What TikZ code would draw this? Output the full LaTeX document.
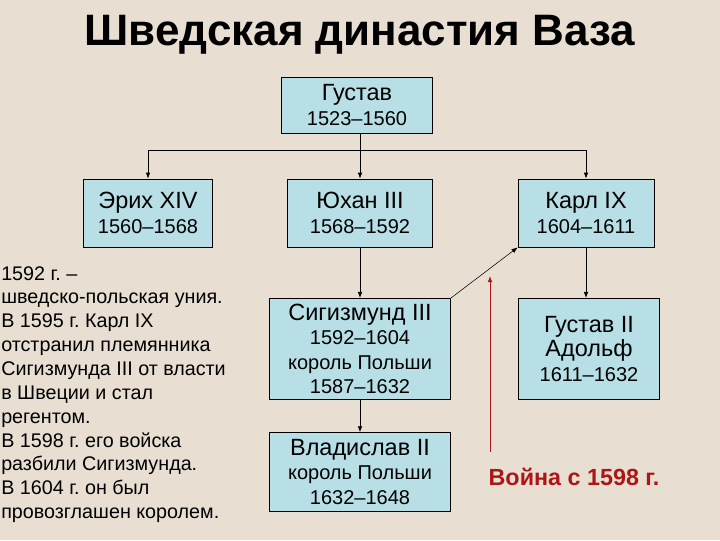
\documentclass[tikz,border=0pt]{standalone}
\usepackage{fontspec}
\setmainfont{Liberation Sans}
\usetikzlibrary{arrows.meta}
\definecolor{paper}{RGB}{232,223,210}
\definecolor{boxblue}{RGB}{183,223,229}
\definecolor{warred}{RGB}{172,22,22}
\newcommand{\nm}{\fontsize{17.6}{20.5}\selectfont}
\newcommand{\yr}{\fontsize{15}{18.3}\selectfont}
\frenchspacing
\tikzset{
  ruler/.style = {draw, fill=boxblue, line width=0.6pt, align=center,
                  inner sep=2pt, font=\yr},
  arr/.style = {-{Latex[length=4.5pt,width=3.5pt]}, line width=0.6pt},
}
\begin{document}
\begin{tikzpicture}[x=0.75pt, y=-0.75pt]
  % Le fond
  \fill[paper] (0,0) rectangle (720,540);
  \useasboundingbox (0,0) rectangle (720,540);

  % Le titre
  \node[font=\fontsize{33}{36}\selectfont\bfseries] (title) at (360,35) {Шведская династия Ваза};

  % Les rois
  \node[ruler, minimum width=113pt, minimum height=42pt] (gustav) at (357,105)
    {{\nm Густав}\\1523–1560};
  \node[ruler, minimum width=97pt, minimum height=51pt] (erik) at (148,213)
    {{\nm Эрих XIV}\\1560–1568};
  \node[ruler, minimum width=109pt, minimum height=51pt] (juhan) at (360,213)
    {{\nm Юхан III}\\1568–1592};
  \node[ruler, minimum width=102pt, minimum height=51pt] (karl) at (586,213)
    {{\nm Карл IX}\\1604–1611};
  \node[ruler, minimum width=136pt, minimum height=76pt] (sigis) at (360,349)
    {{\nm Сигизмунд III}\\1592–1604\\король Польши\\1587–1632};
  \node[ruler, minimum width=106pt, minimum height=76pt] (adolf) at (589,349)
    {{\nm Густав II}\\{\nm Адольф}\\1611–1632};
  \node[ruler, minimum width=136pt, minimum height=59pt] (vlad) at (360,472)
    {{\nm Владислав II}\\король Польши\\1632–1648};

  % Les liens
  \coordinate (bus) at (360,150);
  \draw[line width=0.6pt] (juhan.north |- gustav.south) -- (bus);
  \draw[line width=0.6pt] (erik.north |- bus) -- (karl.north |- bus);
  \foreach \n in {erik, juhan, karl}
    \draw[arr] (\n.north |- bus) -- (\n.north);
  \draw[arr] (juhan.south) -- (sigis.north);
  \draw[arr] (sigis.south) -- (vlad.north);
  \draw[arr] (karl.south) -- (karl.south |- adolf.north);
  \draw[arr, line width=0.4pt] (sigis.north east) -- (karl.south west);

  % La guerre
  \node[font=\fontsize{17.5}{20}\selectfont\bfseries, text=warred] (war) at (574,477) {Война с 1598 г.};
  \coordinate (wartop) at (490,276);
  \draw[arr, warred] (wartop |- 0,452) -- (wartop);

  % Le texte
  \node[anchor=north west, align=left, inner sep=0pt,
        font=\fontsize{14.8}{17.9}\selectfont] (note) at (1,266)
    {1592 г. –\\
     шведско-польская уния.\\
     В 1595 г. Карл IX\\
     отстранил племянника\\
     Сигизмунда III от власти\\
     в Швеции и стал\\
     регентом.\\
     В 1598 г. его войска\\
     разбили Сигизмунда.\\
     В 1604 г. он был\\
     провозглашен королем.};
\end{tikzpicture}
\end{document}
